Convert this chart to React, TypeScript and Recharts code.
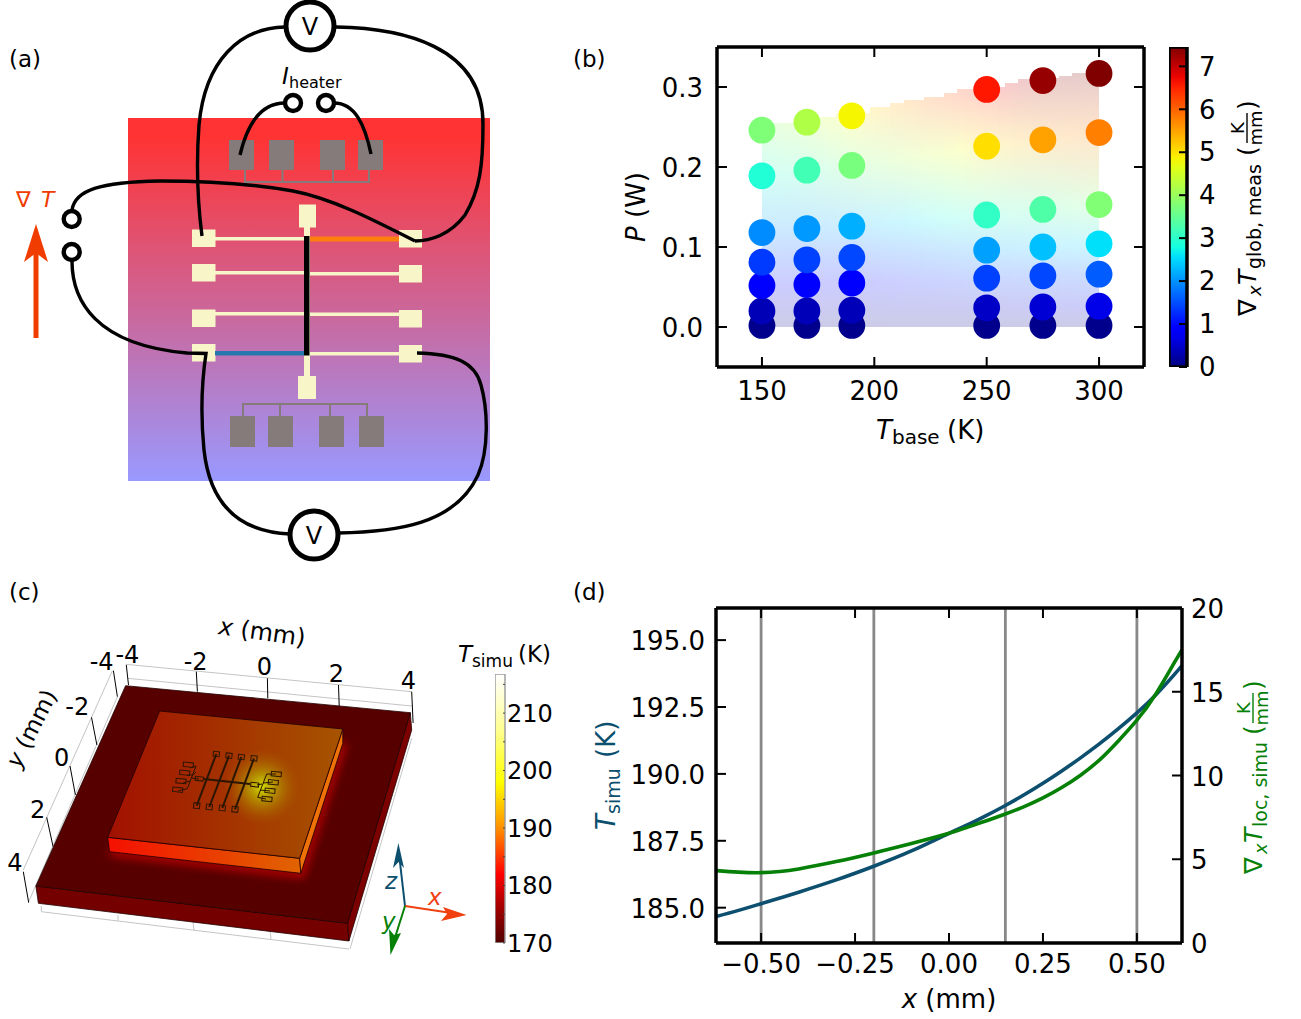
import {
  Bar,
  BarChart,
  Line,
  LineChart,
  ReferenceArea,
  ReferenceLine,
  Scatter,
  ScatterChart,
  XAxis,
  YAxis,
} from "recharts";

const FONT = "'DejaVu Sans', sans-serif";

/* ---------- panel (b) data ---------- */
const baseTemps = [150, 170, 190, 250, 275, 300];
const powerRows = [
  [0.002, 0.02, 0.052, 0.081, 0.118, 0.189, 0.246],
  [0.002, 0.02, 0.053, 0.084, 0.123, 0.196, 0.256],
  [0.002, 0.021, 0.055, 0.087, 0.126, 0.202, 0.264],
  [0.002, 0.024, 0.061, 0.096, 0.14, 0.226, 0.297],
  [0.002, 0.025, 0.064, 0.1, 0.147, 0.234, 0.308],
  [0.002, 0.026, 0.066, 0.104, 0.153, 0.243, 0.317],
];
const gradRows = [
  [0.08, 0.35, 0.85, 1.35, 1.95, 2.9, 3.76],
  [0.08, 0.36, 0.85, 1.4, 2.05, 3.2, 4.2],
  [0.08, 0.36, 0.9, 1.45, 2.21, 3.7, 4.84],
  [0.08, 0.45, 1.4, 2.1, 3.05, 5.03, 6.6],
  [0.08, 0.55, 1.45, 2.33, 3.32, 5.5, 7.3],
  [0.08, 0.68, 1.6, 2.57, 3.78, 5.78, 7.45],
];
// stepped top edge of the shaded map
const stepTemps = [150, 164, 181, 198, 206, 212, 220, 228.5, 237, 244, 256, 264, 270, 280, 286, 294];
const stepTops = [0.2546, 0.262, 0.268, 0.2754, 0.2804, 0.2838, 0.2879, 0.2929, 0.2971, 0.3, 0.3046, 0.3096, 0.311, 0.3138, 0.3179, 0.319];
const tempTicks = [150, 200, 250, 300];
const gradTicks = [0, 1, 2, 3, 4, 5, 6, 7];
const GRAD_MAX = 7.45;

/* ---------- panel (d) data ---------- */
const xMm = [-0.62, -0.56, -0.5, -0.45, -0.4, -0.3, -0.2, -0.1, 0, 0.05, 0.1, 0.15, 0.2, 0.25, 0.3, 0.35, 0.4, 0.45, 0.5, 0.55, 0.6, 0.62];
const tSimu = [184.67, 184.9, 185.15, 185.36, 185.58, 186.04, 186.55, 187.12, 187.78, 188.1, 188.45, 188.82, 189.22, 189.65, 190.11, 190.6, 191.12, 191.68, 192.28, 192.95, 193.72, 194.05];
const gradSimu = [4.32, 4.23, 4.2, 4.27, 4.42, 4.86, 5.38, 5.94, 6.55, 6.92, 7.3, 7.7, 8.14, 8.66, 9.28, 10.02, 10.92, 12.05, 13.3, 14.85, 16.75, 17.5];
const probeLines = [-0.5, -0.2, 0.15, 0.5];
const mmTicks = [-0.5, -0.25, 0, 0.25, 0.5];

/* ---------- colormaps ---------- */
function jet(f: number) {
  const ramp = (pts: number[][]) => {
    for (let i = 1; i < pts.length; i++) {
      if (f <= pts[i][0]) {
        const [x0, y0] = pts[i - 1];
        const [x1, y1] = pts[i];
        return y0 + ((f - x0) / (x1 - x0)) * (y1 - y0);
      }
    }
    return pts[pts.length - 1][1];
  };
  const r = ramp([[0, 0], [0.35, 0], [0.66, 1], [0.89, 1], [1, 0.5]]);
  const g = ramp([[0, 0], [0.125, 0], [0.375, 1], [0.64, 1], [0.91, 0], [1, 0]]);
  const b = ramp([[0, 0.5], [0.11, 1], [0.34, 1], [0.65, 0], [1, 0]]);
  return [r, g, b];
}
function jetCss(v: number, alpha = 1) {
  const c = jet(Math.min(1, Math.max(0, v / GRAD_MAX)));
  const [r, g, b] = c.map((x) => Math.round(255 * (1 - alpha) + 255 * x * alpha));
  return `rgb(${r},${g},${b})`;
}

const heatStops = [
  [170, "#500000"],
  [176, "#a00000"],
  [182, "#ff0000"],
  [190, "#ff9000"],
  [198, "#ffff00"],
  [207, "#ffff90"],
  [216.8, "#ffffff"],
] as const;

/* ---------- tables for recharts ---------- */
const points = baseTemps.flatMap((t, i) =>
  powerRows[i].map((p, j) => ({ t, p, g: gradRows[i][j] })),
);
const lineData = xMm.map((x, i) => ({ x, t: tSimu[i], g: gradSimu[i] }));

// the shaded map is cut in narrow columns, each one with its own vertical gradient
const stripEdges: number[] = [];
for (let t = 150; t < 300; t += 3) stripEdges.push(t);
function topAt(t: number) {
  let top = stepTops[0];
  stepTemps.forEach((s, i) => {
    if (t >= s) top = stepTops[i];
  });
  return top;
}
function stripStops(t: number, top: number) {
  let k = 0;
  while (k < baseTemps.length - 2 && t > baseTemps[k + 1]) k++;
  const w = (t - baseTemps[k]) / (baseTemps[k + 1] - baseTemps[k]);
  const stops = powerRows[0].map((_, j) => ({
    p: powerRows[k][j] * (1 - w) + powerRows[k + 1][j] * w,
    g: gradRows[k][j] * (1 - w) + gradRows[k + 1][j] * w,
  }));
  return stops
    .filter((s) => s.p <= top)
    .map((s) => ({ offset: 1 - s.p / top, g: s.g }));
}

const ink = "#000";
const tLine = "#0d4f6e";
const gLine = "#068006";
const arrowRed = "#f03c00";
const noLabel = () => "";

/* ---------- small text helpers ---------- */
function Frac({ x, y, size = 18 }: { x: number; y: number; size?: number }) {
  return (
    <g>
      <text x={x} y={y - 12} fontSize={size} textAnchor="middle">K</text>
      <line x1={x - 15} x2={x + 15} y1={y - 9} y2={y - 9} stroke="currentColor" strokeWidth={1.4} />
      <text x={x} y={y + 6} fontSize={size} textAnchor="middle">mm</text>
    </g>
  );
}

function Dot(props: any) {
  return <circle cx={props.cx} cy={props.cy} r={13.4} fill={jetCss(props.payload.g)} />;
}

/* ---------- panel (a) ---------- */
function PanelA() {
  const greyTop = [229, 269, 320, 358];
  const greyBottom = [230, 268, 319, 359];
  const creamLeft = [229.5, 264, 309.5, 344];
  const creamRight = [230, 265, 310, 345];
  const wires = [
    "M285,27 C240,28 205,60 199,125 C196,165 198,205 202,236",
    "M336,27 C400,28 484,45 483,125 C483,165 480,190 465,215 C450,235 430,241 415,241",
    "M72,210 C75,190 100,182 160,181 C210,181 260,185 293,191 C330,198 370,218 415,241",
    "M72,261 C72,300 95,345 187,353 L206,353.5 C202,380 200,410 204,450 C210,505 240,532 290,534",
    "M417,353 C455,354 475,362 481,385 C488,410 489,450 478,475 C455,525 395,532 338,533",
    "M240,155 C247,125 260,103 285,103",
    "M371,154 C365,125 355,103 334,103",
  ];
  return (
    <g>
      <defs>
        <linearGradient id="chipGrad" x1="0" x2="0" y1="0" y2="1">
          <stop offset="0.05" stopColor="#ff3333" />
          <stop offset="1" stopColor="#9999ff" />
        </linearGradient>
      </defs>
      <rect x={128} y={118} width={362} height={363} fill="url(#chipGrad)" />

      {greyTop.map((x) => <rect key={x} x={x} y={140} width={25} height={30} fill="#857b7b" />)}
      {greyBottom.map((x) => <rect key={x} x={x} y={416} width={25} height={31} fill="#857b7b" />)}
      <path d="M245,170 V182 H369 V170 M282.5,170 V182 M333,170 V182" fill="none" stroke="#857b7b" strokeWidth={2} />
      <path d="M243,416 V404 H367 V416 M280,416 V404 M330,416 V404" fill="none" stroke="#857b7b" strokeWidth={2} />

      {creamLeft.map((y) => <rect key={y} x={192} y={y} width={23.5} height={17.5} fill="#f8f6c8" />)}
      {creamRight.map((y) => <rect key={y} x={399} y={y} width={23} height={17.5} fill="#f8f6c8" />)}
      <rect x={215} y={237} width={90} height={3.5} fill="#f8f6c8" />
      <rect x={215} y={271} width={90} height={3.5} fill="#f8f6c8" />
      <rect x={215} y={312} width={90} height={3.5} fill="#f8f6c8" />
      <rect x={215} y={351} width={90} height={4.5} fill="#2878b0" />
      <rect x={309} y={236.5} width={90} height={5} fill="#ff7f0e" />
      <rect x={309} y={272} width={90} height={3.5} fill="#f8f6c8" />
      <rect x={309} y={312.5} width={90} height={3.5} fill="#f8f6c8" />
      <rect x={309} y={352} width={90} height={3.5} fill="#f8f6c8" />
      <rect x={304} y={226} width={6} height={135} fill="#f8f6c8" />
      <rect x={304} y={355} width={6} height={22} fill="#f8f6c8" />
      <rect x={299} y={204.5} width={17} height={23} fill="#f8f6c8" />
      <rect x={298} y={376} width={18} height={23} fill="#f8f6c8" />
      <rect x={304} y={236} width={5.5} height={119.5} fill={ink} />

      {wires.map((d) => <path key={d} d={d} fill="none" stroke={ink} strokeWidth={3.4} />)}

      {[[293, 103], [326, 103], [71.7, 219], [71.7, 252]].map(([x, y]) => (
        <circle key={y + x} cx={x} cy={y} r={8} fill="#fff" stroke={ink} strokeWidth={4.4} />
      ))}
      <circle cx={310} cy={26} r={24} fill="#fff" stroke={ink} strokeWidth={5} />
      <circle cx={314} cy={535} r={24} fill="#fff" stroke={ink} strokeWidth={5} />
      <text x={310} y={35} fontSize={24} textAnchor="middle">V</text>
      <text x={314} y={544} fontSize={24} textAnchor="middle">V</text>

      <text x={282} y={84} fontSize={23} fontStyle="italic">I</text>
      <text x={289} y={88} fontSize={16}>heater</text>

      <line x1={36} x2={36} y1={338} y2={250} stroke={arrowRed} strokeWidth={5} />
      <polygon points="36,224 48,262 36,253 24,262" fill={arrowRed} />
      <text x={16} y={207} fontSize={22} fill={arrowRed}>∇</text>
      <text x={41} y={207} fontSize={22} fill={arrowRed} fontStyle="italic">T</text>
    </g>
  );
}

/* ---------- panel (c) ---------- */
function PanelC() {
  const xTicks = [
    ["-4", 127.4, 663, "M126.3,665 L128.5,685"],
    ["-2", 195.6, 670, "M196.3,671.7 L197.4,691.7"],
    ["0", 264.5, 675, "M267.4,678.3 L267.8,698.3"],
    ["2", 336.3, 682, "M338.5,685 L339.2,706"],
    ["4", 408.5, 689, "M411.7,691.7 L413.1,723"],
  ];
  const yTicks = [
    ["-4", 101.6, 670, "M113.4,670.7 L117.4,696.7"],
    ["-2", 77.2, 715, "M91.5,717.3 L96.9,745"],
    ["0", 61.7, 766, "M70,766 L75.4,795"],
    ["2", 37.7, 818, "M46.7,817.3 L53.1,846.7"],
    ["4", 15, 871, "M23.3,871.7 L28.7,902.7"],
  ];
  const topPads = [[216.3, 754], [229, 755.7], [241.3, 757], [254, 758.3]];
  const lowPads = [[196.7, 805.7], [209.3, 807], [222.3, 808], [235, 809.3]];
  const leftPads = [[188.3, 764.7], [184.7, 772.7], [181, 781], [177.7, 789.7]];
  const rightPads = [[276.3, 774], [273.3, 782.3], [270, 790.7], [267, 799]];
  const pad = (x: number, y: number, w: number, h: number) => (
    <rect
      key={`${x}-${y}`}
      x={x - w / 2}
      y={y - h / 2}
      width={w}
      height={h}
      fill="none"
      stroke="#2a1500"
      strokeWidth={1}
      transform={`rotate(6 ${x} ${y})`}
    />
  );
  return (
    <g>
      <defs>
        <linearGradient id="innerTop" x1="0" x2="1" y1="0" y2="0">
          <stop offset="0" stopColor="#a21000" />
          <stop offset="1" stopColor="#a65400" />
        </linearGradient>
        <linearGradient id="innerFront" x1="0" x2="1" y1="0" y2="0">
          <stop offset="0" stopColor="#f51000" />
          <stop offset="1" stopColor="#e06400" />
        </linearGradient>
        <radialGradient id="hotSpot">
          <stop offset="0" stopColor="#d4dc00" stopOpacity={1} />
          <stop offset="0.35" stopColor="#b8a800" stopOpacity={0.75} />
          <stop offset="1" stopColor="#a86000" stopOpacity={0} />
        </radialGradient>
        <filter id="glow" x="-30%" y="-30%" width="160%" height="160%">
          <feGaussianBlur stdDeviation="5" />
        </filter>
        <clipPath id="outerTopClip">
          <polygon points="125.6,685.7 410.3,712.7 347.5,923.3 35.9,886" />
        </clipPath>
      </defs>

      {/* axis box behind the block */}
      <g fill="none" stroke="#c4c4c4" strokeWidth={1}>
        <path d="M125.6,664.3 L411.7,691.7 M127.4,678.3 L411.7,706" />
        <path d="M112.4,670.7 L23.3,870 M117.4,696.7 L28.7,901.7" />
        <path d="M41.3,906 L41.3,911.7 L348.9,949 M411.7,738.3 L350,949" />
        <path d="M118,921 L118,915 M194,930 L193,922 M271,939 L270,931" />
      </g>

      <polygon points="35.9,886 347.5,923.3 348.9,941 38.4,903.3" fill="#750000" stroke="#220000" strokeWidth={0.8} />
      <polygon points="410.3,712.7 411.7,730 348.9,941 347.5,923.3" fill="#7c0000" stroke="#220000" strokeWidth={0.8} />
      <polygon points="125.6,685.7 410.3,712.7 347.5,923.3 35.9,886" fill="#560000" stroke="#220000" strokeWidth={0.8} />
      <g clipPath="url(#outerTopClip)">
        <path d="M110,852 L301,874 L343,743" fill="none" stroke="#c80000" strokeWidth={7} filter="url(#glow)" />
      </g>

      <polygon points="107.7,837.3 299.7,858.3 300.8,873.3 109.5,851.7" fill="url(#innerFront)" stroke="#200" strokeWidth={0.8} />
      <polygon points="342.8,729 342.8,743.3 300.8,873.3 299.7,858.3" fill="#ee7208" stroke="#200" strokeWidth={0.8} />
      <polygon points="159.7,711 342.8,729 299.7,858.3 107.7,837.3" fill="url(#innerTop)" stroke="#200" strokeWidth={0.8} />
      <ellipse cx={262} cy={787} rx={38} ry={38} fill="url(#hotSpot)" />

      {/* device outline on the sample */}
      <g stroke="#2a1500" fill="none">
        {topPads.map(([x, y], i) => (
          <line key={x} x1={x} y1={y} x2={lowPads[i][0]} y2={lowPads[i][1]} strokeWidth={2} />
        ))}
        <line x1={204} y1={779} x2={250} y2={784} strokeWidth={2} />
        <path d="M190,768 L196,766 L187.3,788.7 L178,791 M187,775 L192.5,775 M183,783 L190,781" strokeWidth={1} />
        <path d="M276,774 L266.7,774 L257.7,797.3 L266,799 M273,782 L263,783 M270,791 L260,790" strokeWidth={1} />
        <path d="M192,778 L199,779 M196,772 L192,776 M262,784 L257,785" strokeWidth={1} />
      </g>
      {topPads.map(([x, y]) => pad(x, y, 6, 5))}
      {lowPads.map(([x, y]) => pad(x, y, 6, 5.5))}
      {leftPads.map(([x, y]) => pad(x, y, 10, 4.5))}
      {rightPads.map(([x, y]) => pad(x, y, 10, 4.5))}
      {pad(199.3, 778.7, 8, 4)}
      {pad(254.7, 784.7, 8, 4)}

      {xTicks.map(([t, x, y, d]) => (
        <g key={`x${t}`}>
          <path d={d as string} stroke="#000" strokeWidth={1} />
          <text x={x as number} y={y as number} fontSize={24} textAnchor="middle">{t}</text>
        </g>
      ))}
      {yTicks.map(([t, x, y, d]) => (
        <g key={`y${t}`}>
          <path d={d as string} stroke="#000" strokeWidth={1} />
          <text x={x as number} y={y as number} fontSize={24} textAnchor="middle">{t}</text>
        </g>
      ))}
      <text fontSize={24} textAnchor="middle" transform="translate(261,640) rotate(8)">
        <tspan fontStyle="italic">x</tspan> (mm)
      </text>
      <text fontSize={23} textAnchor="middle" transform="translate(38.5,732) rotate(-63)">
        <tspan fontStyle="italic">y</tspan> (mm)
      </text>

      {/* orientation triad */}
      <line x1={405} y1={906} x2={398.8} y2={852} stroke={tLine} strokeWidth={2} />
      <polygon points="398.4,843 404,868 398.5,862 393,868" fill={tLine} />
      <line x1={405} y1={906} x2={458} y2={914} stroke="#f04010" strokeWidth={2} />
      <polygon points="466.6,915 441,921 447,914 443,907" fill="#f04010" />
      <line x1={405} y1={906} x2={392} y2={947} stroke={gLine} strokeWidth={2} />
      <polygon points="390.5,955 389,929 394,935 401,933" fill={gLine} />
      <text x={385} y={889} fontSize={23} fontStyle="italic" fill={tLine}>z</text>
      <text x={428} y={905} fontSize={23} fontStyle="italic" fill="#f04010">x</text>
      <text x={382} y={929} fontSize={23} fontStyle="italic" fill={gLine}>y</text>

      <text x={458} y={662} fontSize={23} fontStyle="italic">T</text>
      <text x={472} y={667} fontSize={17}>simu</text>
      <text x={518} y={662} fontSize={23}>(K)</text>
    </g>
  );
}

/* ---------- panel (b) ---------- */
function PanelB() {
  return (
    <div style={{ position: "absolute", left: 657, top: 32 }}>
      <ScatterChart width={502} height={395} margin={{ top: 0, right: 0, bottom: 0, left: 0 }}>
        <defs>
          {stripEdges.map((t) => {
            const top = topAt(t);
            return (
              <linearGradient key={t} id={`strip${t}`} x1="0" x2="0" y1="0" y2="1">
                {stripStops(t + 1.5, top)
                  .slice()
                  .reverse()
                  .map((s) => (
                    <stop key={s.offset} offset={s.offset} stopColor={jetCss(s.g, 0.2)} />
                  ))}
              </linearGradient>
            );
          })}
        </defs>
        <XAxis
          type="number"
          dataKey="t"
          domain={[130, 320]}
          ticks={tempTicks}
          interval={0}
          height={60}
          tickSize={-10}
          tickMargin={25}
          tick={{ fontSize: 26, fill: ink, fontFamily: FONT }}
          axisLine={{ stroke: ink, strokeWidth: 3.5 }}
          tickLine={{ stroke: ink, strokeWidth: 2 }}
          allowDataOverflow
        />
        <XAxis
          xAxisId="top"
          orientation="top"
          type="number"
          domain={[130, 320]}
          ticks={tempTicks}
          interval={0}
          height={15}
          tickFormatter={noLabel}
          tickLine={false}
          axisLine={{ stroke: ink, strokeWidth: 3.5 }}
          allowDataOverflow
        />
        <YAxis
          type="number"
          dataKey="p"
          domain={[-0.05, 0.35]}
          ticks={[0, 0.1, 0.2, 0.3]}
          interval={0}
          tickFormatter={(v: number) => v.toFixed(1)}
          width={60}
          tickSize={-10}
          tickMargin={24}
          tick={{ fontSize: 26, fill: ink, fontFamily: FONT, dy: 1 }}
          axisLine={{ stroke: ink, strokeWidth: 3.5 }}
          tickLine={{ stroke: ink, strokeWidth: 2 }}
          allowDataOverflow
        />
        <YAxis
          yAxisId="right"
          orientation="right"
          type="number"
          domain={[-0.05, 0.35]}
          ticks={[0, 0.1, 0.2, 0.3]}
          interval={0}
          width={15}
          tickFormatter={noLabel}
          tickSize={-10}
          axisLine={{ stroke: ink, strokeWidth: 3.5 }}
          tickLine={{ stroke: ink, strokeWidth: 2 }}
          allowDataOverflow
        />
        {stripEdges.map((t) => (
          <ReferenceArea
            key={t}
            x1={t}
            x2={t + 3}
            y1={0}
            y2={topAt(t)}
            fill={`url(#strip${t})`}
            fillOpacity={1}
            stroke="none"
            shapeRendering="crispEdges"
          />
        ))}
        <Scatter data={points} shape={Dot} isAnimationActive={false} />
      </ScatterChart>
    </div>
  );
}

function ColorbarB() {
  return (
    <div style={{ position: "absolute", left: 1169, top: 32 }}>
      <BarChart
        width={61}
        height={350}
        data={[{ k: "bar", v: GRAD_MAX }]}
        margin={{ top: 15, right: 0, bottom: 15, left: 0 }}
        barCategoryGap={0}
      >
        <defs>
          <linearGradient id="jetBar" x1="0" x2="0" y1="1" y2="0">
            {Array.from({ length: 33 }, (_, i) => (
              <stop key={i} offset={i / 32} stopColor={jetCss((i / 32) * GRAD_MAX)} />
            ))}
          </linearGradient>
        </defs>
        <XAxis dataKey="k" hide />
        <YAxis
          orientation="right"
          domain={[0, GRAD_MAX]}
          ticks={gradTicks}
          interval={0}
          allowDataOverflow
          width={43}
          tickSize={-8}
          tickMargin={20}
          tick={{ fontSize: 26, fill: ink, fontFamily: FONT }}
          axisLine={false}
          tickLine={{ stroke: ink, strokeWidth: 2 }}
        />
        <Bar dataKey="v" fill="url(#jetBar)" stroke={ink} strokeWidth={3.5} isAnimationActive={false} />
      </BarChart>
    </div>
  );
}

function ColorbarC() {
  const ticks = [170, 175, 180, 185, 190, 195, 200, 205, 210, 215];
  return (
    <div style={{ position: "absolute", left: 495, top: 654 }}>
      <BarChart
        width={70}
        height={309}
        data={[{ k: "bar", v: 216.8 }]}
        margin={{ top: 20, right: 0, bottom: 20, left: 0 }}
        barCategoryGap={0}
      >
        <defs>
          <linearGradient id="heatBar" x1="0" x2="0" y1="1" y2="0">
            {heatStops.map(([v, c]) => (
              <stop key={v} offset={(v - 170) / 46.8} stopColor={c} />
            ))}
          </linearGradient>
        </defs>
        <XAxis dataKey="k" hide />
        <YAxis
          orientation="right"
          domain={[170, 216.8]}
          ticks={ticks}
          interval={0}
          allowDataOverflow
          width={60}
          tickSize={-2}
          tickMargin={4}
          tickFormatter={(v: number) => (v % 10 === 0 ? String(v) : "")}
          tick={{ fontSize: 24, fill: ink, fontFamily: FONT }}
          axisLine={false}
          tickLine={{ stroke: "#444", strokeWidth: 1 }}
        />
        <Bar dataKey="v" fill="url(#heatBar)" stroke="#999" strokeWidth={1.4} isAnimationActive={false} />
      </BarChart>
    </div>
  );
}

/* ---------- panel (d) ---------- */
function PanelD() {
  return (
    <div style={{ position: "absolute", left: 626, top: 593 }}>
      <LineChart width={606} height={410} data={lineData} margin={{ top: 0, right: 0, bottom: 0, left: 0 }}>
        <XAxis
          type="number"
          dataKey="x"
          domain={[-0.62, 0.62]}
          ticks={mmTicks}
          tickFormatter={(v: number) => v.toFixed(2).replace("-", "\u2212")}
          height={60}
          tickSize={-10}
          tickMargin={22}
          interval={0}
          tick={{ fontSize: 26, fill: ink, fontFamily: FONT }}
          axisLine={{ stroke: ink, strokeWidth: 3.5 }}
          tickLine={{ stroke: ink, strokeWidth: 2 }}
          allowDataOverflow
        />
        <XAxis
          xAxisId="top"
          orientation="top"
          type="number"
          dataKey="x"
          domain={[-0.62, 0.62]}
          ticks={mmTicks}
          interval={0}
          height={15}
          tickFormatter={noLabel}
          tickLine={false}
          axisLine={{ stroke: ink, strokeWidth: 3.5 }}
          allowDataOverflow
        />
        <YAxis
          yAxisId="left"
          domain={[183.68, 196.2]}
          ticks={[185, 187.5, 190, 192.5, 195]}
          interval={0}
          tickFormatter={(v: number) => v.toFixed(1)}
          allowDataOverflow
          width={90}
          tickSize={-10}
          tickMargin={21}
          tick={{ fontSize: 26, fill: ink, fontFamily: FONT, dy: 1 }}
          axisLine={{ stroke: ink, strokeWidth: 3.5 }}
          tickLine={{ stroke: ink, strokeWidth: 2 }}
        />
        <YAxis
          yAxisId="right"
          orientation="right"
          domain={[0, 20]}
          ticks={[0, 5, 10, 15, 20]}
          interval={0}
          allowDataOverflow
          width={50}
          tickSize={-10}
          tickMargin={19}
          tick={{ fontSize: 26, fill: ink, fontFamily: FONT, dy: 1 }}
          axisLine={{ stroke: ink, strokeWidth: 3.5 }}
          tickLine={{ stroke: ink, strokeWidth: 2 }}
        />
        {probeLines.map((x) => (
          <ReferenceLine key={x} x={x} yAxisId="left" stroke="#888" strokeWidth={2.8} />
        ))}
        <Line yAxisId="left" dataKey="t" type="natural" stroke={tLine} strokeWidth={3.6} dot={false} isAnimationActive={false} />
        <Line yAxisId="right" dataKey="g" type="natural" stroke={gLine} strokeWidth={3.6} dot={false} isAnimationActive={false} />
      </LineChart>
    </div>
  );
}

/* ---------- titles drawn above everything ---------- */
function Titles() {
  return (
    <svg width={1301} height={1019} style={{ position: "absolute", left: 0, top: 0, pointerEvents: "none" }} fontFamily={FONT}>
      {/* inward ticks along the top edges of (b) and (d) */}
      {tempTicks.map((t) => {
        const x = 717 + ((t - 130) / 190) * 427;
        return <line key={t} x1={x} x2={x} y1={47} y2={57} stroke={ink} strokeWidth={2} />;
      })}
      {mmTicks.map((m) => {
        const x = 716 + ((m + 0.62) / 1.24) * 466;
        return <line key={m} x1={x} x2={x} y1={608} y2={618} stroke={ink} strokeWidth={2} />;
      })}

      <text x={9} y={67} fontSize={23}>(a)</text>
      <text x={573} y={67} fontSize={23}>(b)</text>
      <text x={9} y={600} fontSize={23}>(c)</text>
      <text x={573} y={600} fontSize={23}>(d)</text>

      <text fontSize={26} textAnchor="middle" transform="translate(645,207) rotate(-90)">
        <tspan fontStyle="italic">P</tspan> (W)
      </text>
      <text x={876} y={439} fontSize={26} fontStyle="italic">T</text>
      <text x={892} y={444} fontSize={20}>base</text>
      <text x={947} y={439} fontSize={26}>(K)</text>

      <g transform="translate(1256,316) rotate(-90)" fill={ink} color={ink}>
        <text x={0} y={0} fontSize={25}>∇</text>
        <text x={20} y={5} fontSize={18} fontStyle="italic">x</text>
        <text x={31} y={0} fontSize={25} fontStyle="italic">T</text>
        <text x={47} y={5} fontSize={19}>glob, meas</text>
        <text x={160} y={0} fontSize={25}>(</text>
        <Frac x={188} y={0} />
        <text x={206} y={0} fontSize={25}>)</text>
      </g>

      <text x={949} y={1008} fontSize={26} textAnchor="middle">
        <tspan fontStyle="italic">x</tspan> (mm)
      </text>
      <g transform="translate(615,830) rotate(-90)" fill={tLine}>
        <text x={0} y={0} fontSize={26} fontStyle="italic">T</text>
        <text x={16} y={5} fontSize={19}>simu</text>
        <text x={72} y={0} fontSize={26}>(K)</text>
      </g>
      <g transform="translate(1262,874) rotate(-90)" fill={gLine} color={gLine}>
        <text x={0} y={0} fontSize={25}>∇</text>
        <text x={20} y={5} fontSize={18} fontStyle="italic">x</text>
        <text x={31} y={0} fontSize={25} fontStyle="italic">T</text>
        <text x={47} y={5} fontSize={19}>loc, simu</text>
        <text x={139} y={0} fontSize={25}>(</text>
        <Frac x={166} y={0} />
        <text x={184} y={0} fontSize={25}>)</text>
      </g>
    </svg>
  );
}

export default function App() {
  return (
    <div style={{ position: "absolute", left: 0, top: 0, width: 1301, height: 1019, background: "#fff", fontFamily: FONT }}>
      <svg width={1301} height={1019} style={{ position: "absolute", left: 0, top: 0 }} fontFamily={FONT}>
        <PanelA />
        <PanelC />
      </svg>
      <PanelB />
      <ColorbarB />
      <ColorbarC />
      <PanelD />
      <Titles />
    </div>
  );
}
